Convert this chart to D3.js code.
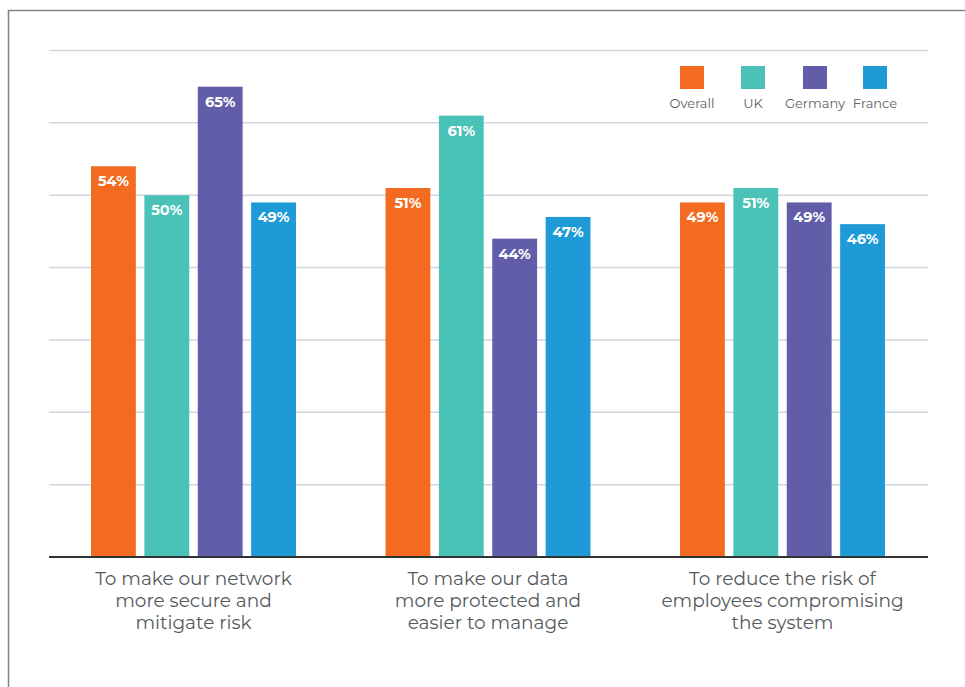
<!DOCTYPE html>
<html><head><meta charset="utf-8">
<script src="https://cdn.jsdelivr.net/npm/d3@7"></script>
<style>body{margin:0;background:#fff;}svg{display:block;}</style>
</head><body>
<script>
const categories = [["To make our network","more secure and","mitigate risk"],["To make our data","more protected and","easier to manage"],["To reduce the risk of","employees compromising","the system"]];
const seriesNames = ["Overall","UK","Germany","France"];
const overall = [54,51,49];
const uk = [50,61,51];
const germany = [65,44,49];
const france = [49,47,46];
const gridTicks = [0,10,20,30,40,50,60,70];
const colors = ["#F26B21","#4BC2B8","#625DA8","#1E9AD6"];
const seriesValues = [overall, uk, germany, france];

const W=965,H=687;
const svg=d3.select("body").append("svg").attr("width",W).attr("height",H);
const font="Montserrat, 'Open Sans', 'Noto Sans', sans-serif";
// frame
svg.append("path").attr("d",`M8.5,${H} L8.5,10.5 L${W},10.5`).attr("fill","none").attr("stroke","#7d8388").attr("stroke-width",1.5);

const x0=d3.scaleBand().domain(d3.range(categories.length)).range([46.25,929.75]).paddingInner(0).paddingOuter(0);
const x1=d3.scaleBand().domain(d3.range(seriesNames.length)).range([0,205]).paddingInner(0.16).paddingOuter(0);
const y=d3.scaleLinear().domain([0,70]).range([557,50.5]);

svg.append("g").selectAll("line").data(gridTicks.filter(d=>d>0)).join("line")
 .attr("x1",49).attr("x2",928).attr("y1",d=>y(d)).attr("y2",d=>y(d))
 .attr("stroke","#d3d6db").attr("stroke-width",1.5);

const groups=svg.append("g").selectAll("g").data(categories).join("g")
 .attr("transform",(d,i)=>`translate(${x0(i)+(x0.bandwidth()-205)/2},0)`);
groups.each(function(c,ci){
  const g=d3.select(this);
  seriesValues.forEach((vals,si)=>{
    g.append("rect").attr("x",x1(si)).attr("width",x1.bandwidth())
     .attr("y",y(vals[ci])).attr("height",y(0)-y(vals[ci])).attr("fill",colors[si]);
    g.append("text").attr("x",x1(si)+x1.bandwidth()/2).attr("y",y(vals[ci])+20)
     .attr("text-anchor","middle").attr("fill","#fff").attr("font-family",font)
     .attr("font-weight","bold").attr("font-size",14.5).text(vals[ci]+"%");
  });
  const t=g.append("text").attr("text-anchor","middle").attr("fill","#555a5e")
   .attr("font-family",font).attr("font-size",18.5);
  c.forEach((line,li)=>t.append("tspan").attr("x",102.5).attr("y",585+li*22).text(line));
});

svg.append("line").attr("x1",49).attr("x2",928).attr("y1",y(0)).attr("y2",y(0))
 .attr("stroke","#2f3235").attr("stroke-width",2);

const legendX=[692,753,815,875];
const lg=svg.append("g").selectAll("g").data(seriesNames).join("g");
lg.append("rect").attr("x",(d,i)=>legendX[i]-12).attr("y",66).attr("width",24).attr("height",23).attr("fill",(d,i)=>colors[i]);
lg.append("text").attr("x",(d,i)=>legendX[i]).attr("y",108).attr("text-anchor","middle")
 .attr("font-family",font).attr("font-size",13).attr("fill","#5a5f63").text(d=>d);
</script>
</body></html>
